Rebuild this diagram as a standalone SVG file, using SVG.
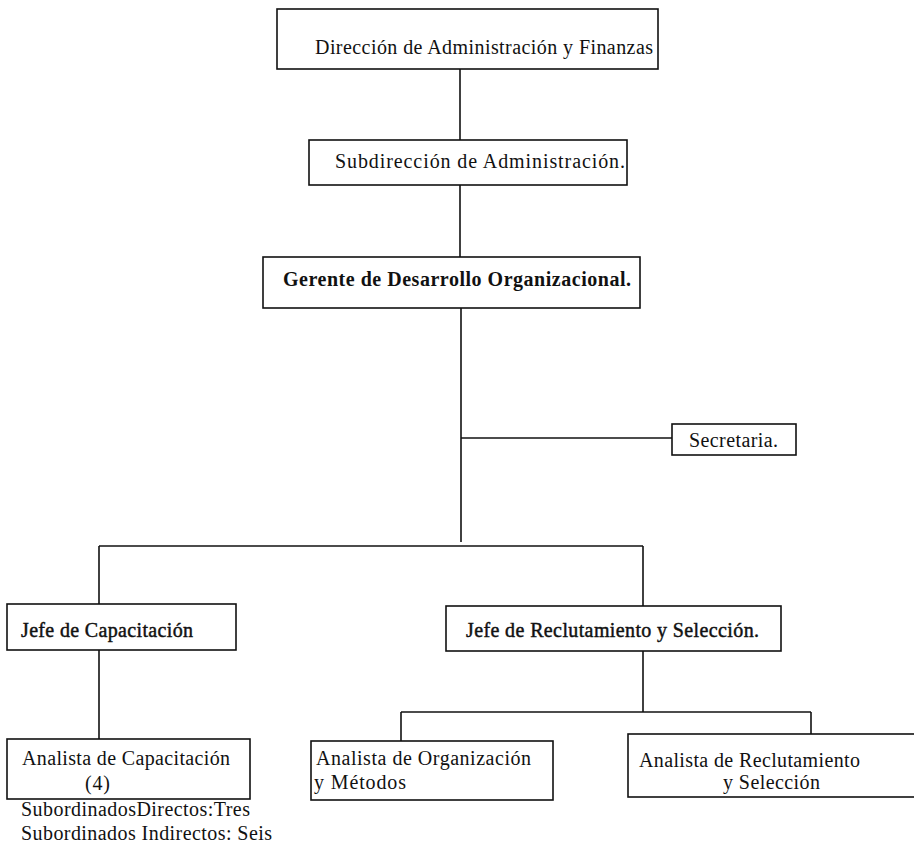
<svg xmlns="http://www.w3.org/2000/svg" width="914" height="845" viewBox="0 0 914 845">
<style>
.box{fill:#fff;stroke:#111;stroke-width:1.6}
.ln{stroke:#111;stroke-width:1.6;fill:none}
text{font-family:"Liberation Serif","Times New Roman",serif;font-size:20px;fill:#111}
.b{font-weight:bold}
.m{stroke:#111;stroke-width:0.45}
</style>
<rect width="914" height="845" fill="#fff"/>
<g id="connectors">
<line class="ln" x1="460" y1="69" x2="460" y2="140"/>
<line class="ln" x1="460" y1="185" x2="460" y2="257"/>
<line class="ln" x1="461" y1="308" x2="461" y2="542"/>
<line class="ln" x1="461" y1="438" x2="672" y2="438"/>
<line class="ln" x1="99" y1="546" x2="643" y2="546"/>
<line class="ln" x1="99" y1="546" x2="99" y2="604"/>
<line class="ln" x1="643" y1="546" x2="643" y2="606"/>
<line class="ln" x1="99" y1="650" x2="99" y2="739"/>
<line class="ln" x1="643" y1="651" x2="643" y2="712"/>
<line class="ln" x1="401" y1="712" x2="811" y2="712"/>
<line class="ln" x1="401" y1="712" x2="401" y2="741"/>
<line class="ln" x1="811" y1="712" x2="811" y2="734"/>
</g>
<g id="direccion">
<rect class="box" x="277" y="9" width="381" height="60"/>
<text x="315" y="54" textLength="338" lengthAdjust="spacing">Dirección de Administración y Finanzas</text>
</g>
<g id="subdireccion">
<rect class="box" x="309" y="140" width="318" height="45"/>
<text x="335" y="168" textLength="290" lengthAdjust="spacing">Subdirección de Administración.</text>
</g>
<g id="gerente">
<rect class="box" x="263" y="257" width="377" height="51"/>
<text class="b" x="283" y="286" textLength="348" lengthAdjust="spacing">Gerente de Desarrollo Organizacional.</text>
</g>
<g id="secretaria">
<rect class="box" x="672" y="424" width="124" height="31"/>
<text x="689" y="447" textLength="89" lengthAdjust="spacing">Secretaria.</text>
</g>
<g id="jefe-capacitacion">
<rect class="box" x="7" y="604" width="229" height="46"/>
<text class="m" x="21" y="637" textLength="172" lengthAdjust="spacing">Jefe de Capacitación</text>
</g>
<g id="jefe-reclutamiento">
<rect class="box" x="446" y="606" width="335" height="45"/>
<text class="m" x="466" y="637" textLength="293" lengthAdjust="spacing">Jefe de Reclutamiento y Selección.</text>
</g>
<g id="analista-capacitacion">
<rect class="box" x="7" y="739" width="243" height="60"/>
<text x="22" y="765" textLength="208" lengthAdjust="spacing">Analista de Capacitación</text>
<text x="85" y="790" textLength="25" lengthAdjust="spacing">(4)</text>
<text x="21" y="816" textLength="229" lengthAdjust="spacing">SubordinadosDirectos:Tres</text>
<text x="21" y="840" textLength="251" lengthAdjust="spacing">Subordinados Indirectos: Seis</text>
</g>
<g id="analista-organizacion">
<rect class="box" x="311" y="741" width="242" height="59"/>
<text x="316" y="765" textLength="215" lengthAdjust="spacing">Analista de Organización</text>
<text x="314" y="789" textLength="92" lengthAdjust="spacing">y Métodos</text>
</g>
<g id="analista-reclutamiento">
<rect class="box" x="628" y="734" width="300" height="63"/>
<text x="639" y="767" textLength="221" lengthAdjust="spacing">Analista de Reclutamiento</text>
<text x="723" y="789" textLength="97" lengthAdjust="spacing">y Selección</text>
</g>
</svg>
